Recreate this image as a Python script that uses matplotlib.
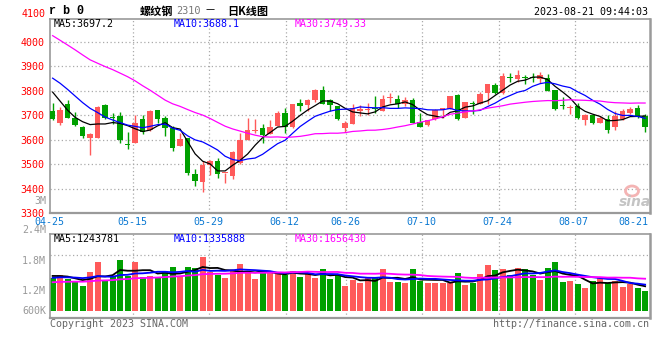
import numpy as np
import pandas as pd
import matplotlib
matplotlib.use("Agg")
import matplotlib.pyplot as plt
from matplotlib.patches import Ellipse

# daily K-line of rb2310, 04-25 .. 08-21 (80 sessions)
open_ = [3716, 3669, 3745, 3690, 3650, 3609, 3607, 3741, 3689, 3696,
         3581, 3587, 3684, 3641, 3720, 3688, 3648, 3575, 3605, 3459,
         3425, 3496, 3512, 3462, 3450, 3503, 3598, 3637, 3646, 3625,
         3655, 3711, 3650, 3752, 3741, 3761, 3802, 3761, 3738, 3646,
         3666, 3718, 3721, 3725, 3718, 3771, 3768, 3745, 3761, 3673,
         3659, 3684, 3720, 3724, 3783, 3690, 3752, 3745, 3793, 3822,
         3793, 3852, 3847, 3852, 3855, 3850, 3854, 3802, 3739, 3728,
         3738, 3680, 3700, 3670, 3686, 3650, 3686, 3711, 3729, 3695]
high = [3749, 3734, 3761, 3714, 3656, 3629, 3738, 3745, 3711, 3714,
        3632, 3701, 3701, 3720, 3721, 3697, 3656, 3626, 3605, 3480,
        3513, 3518, 3524, 3464, 3552, 3629, 3690, 3686, 3666, 3680,
        3718, 3731, 3745, 3765, 3768, 3809, 3818, 3768, 3738, 3677,
        3745, 3741, 3752, 3779, 3782, 3793, 3782, 3775, 3772, 3711,
        3680, 3727, 3731, 3779, 3789, 3754, 3759, 3795, 3827, 3833,
        3874, 3874, 3884, 3863, 3874, 3877, 3870, 3802, 3776, 3741,
        3749, 3707, 3707, 3697, 3700, 3718, 3725, 3734, 3741, 3704]
low = [3681, 3662, 3689, 3658, 3607, 3537, 3605, 3686, 3665, 3588,
       3561, 3587, 3625, 3635, 3667, 3615, 3553, 3575, 3456, 3412,
       3384, 3457, 3443, 3422, 3439, 3500, 3598, 3627, 3587, 3622,
       3655, 3626, 3646, 3718, 3718, 3755, 3748, 3718, 3680, 3633,
       3663, 3695, 3700, 3711, 3718, 3752, 3731, 3738, 3670, 3652,
       3656, 3680, 3690, 3724, 3680, 3690, 3704, 3745, 3748, 3788,
       3786, 3836, 3836, 3827, 3836, 3833, 3799, 3722, 3727, 3704,
       3684, 3659, 3663, 3667, 3627, 3640, 3682, 3707, 3690, 3633]
close = [3684, 3720, 3689, 3659, 3616, 3625, 3733, 3689, 3688, 3598,
         3580, 3669, 3632, 3718, 3684, 3646, 3567, 3602, 3463, 3432,
         3496, 3511, 3459, 3463, 3548, 3598, 3639, 3639, 3618, 3652,
         3711, 3652, 3745, 3738, 3761, 3802, 3748, 3741, 3684, 3667,
         3729, 3727, 3722, 3724, 3768, 3772, 3748, 3761, 3670, 3652,
         3680, 3720, 3729, 3779, 3684, 3754, 3745, 3786, 3827, 3793,
         3861, 3851, 3863, 3851, 3854, 3863, 3799, 3724, 3737, 3729,
         3690, 3700, 3667, 3690, 3640, 3697, 3718, 3727, 3695, 3650]
# volume, millions of lots
volume = [1.66, 1.83, 1.62, 1.46, 1.27, 1.98, 2.49, 1.57, 1.78, 2.59,
          1.79, 2.49, 1.71, 1.78, 1.74, 1.98, 2.23, 1.79, 2.23, 2.18,
          2.74, 1.96, 1.83, 1.68, 2.08, 2.39, 2.03, 1.62, 1.96, 1.93,
          1.98, 1.83, 2.03, 1.73, 1.86, 1.68, 2.13, 1.64, 1.89, 1.27,
          1.56, 1.41, 1.71, 1.68, 2.12, 1.46, 1.46, 1.41, 2.12, 1.54,
          1.41, 1.41, 1.41, 1.41, 1.91, 1.31, 1.44, 1.86, 2.32, 2.07,
          2.12, 1.81, 2.17, 2.12, 1.84, 1.56, 2.17, 2.47, 1.46, 1.51,
          1.36, 1.15, 1.52, 1.66, 1.41, 1.52, 1.22, 1.39, 1.15, 1.00]

# 29 sessions before 04-25, estimated from where the MA lines start
pre_close = [4290, 4270, 4250, 4240, 4229, 4150, 4100, 4060, 4030, 4018,
             4180, 4230, 4270, 4290, 4254, 4020, 3920, 3850, 3800, 3805,
             3930, 3940, 3930, 3885, 3860, 3905, 3875, 3805, 3705]
pre_volume = [1.30, 1.42, 1.25, 1.38, 1.33, 1.45, 1.28, 1.36, 1.40, 1.31,
              1.27, 1.39, 1.35, 1.44, 1.30, 1.36, 1.33, 1.29, 1.42, 1.37,
              1.52, 1.63, 1.58, 1.55, 1.62, 1.85, 1.76, 1.90, 1.73]

date_labels = ['04-25', '05-15', '05-29', '06-12', '06-26', '07-10', '07-24', '08-07', '08-21']
price_ticks = [3300, 3400, 3500, 3600, 3700, 3800, 3900, 4000]
ma_price_text = ['MA5:3697.2', 'MA10:3688.1', 'MA30:3749.33']
ma_vol_text = ['MA5:1243781', 'MA10:1335888', 'MA30:1656430']
vol_labels = ['2.4M', '1.8M', '1.2M', '600K']

RED = '#ff5a5a'
GREEN = '#00a000'
GRID = '#aaaaaa'
FRAME = '#9a9a9a'
MA_COLORS = ['black', '#0000ff', '#ff00ff']
MONO = 'DejaVu Sans Mono'
CJK = ['Noto Sans CJK SC', 'DejaVu Sans']

W, H = 660, 360


def box(l, t, r, b):
    return [l / W, 1 - b / H, (r - l) / W, (b - t) / H]


def ftext(x, y, s, **kw):
    kw.setdefault('family', MONO)
    kw.setdefault('fontsize', 7.2)
    kw.setdefault('va', 'center')
    fig.text(x / W, 1 - y / H, s, **kw)


fig = plt.figure(figsize=(6.6, 3.6), dpi=100)
ax = fig.add_axes(box(50, 19, 650, 213))
axv = fig.add_axes(box(50, 234, 650, 318))

o = np.array(open_, float)
h = np.array(high, float)
l = np.array(low, float)
c = np.array(close, float)
v = np.array(volume)
x = np.arange(len(c))
colors = np.where(c >= o, RED, GREEN)

# grid lines sit a bit off the candles, as in the original
grid_x = [10.72, 20.85, 31.08, 39.1, 49.25, 59.5, 69.65]
xlim = (-0.35, 79.65)

for a in (ax, axv):
    a.set_xlim(*xlim)
    for gx in grid_x:
        a.axvline(gx, color=GRID, lw=0.9, ls=(0, (1, 2)), zorder=0)
    a.set_xticks([])
    for sp in a.spines.values():
        sp.set_color(FRAME)
        sp.set_linewidth(1.2)
    a.spines['right'].set_linewidth(1.8)
    a.spines['bottom'].set_linewidth(1.6)
    a.tick_params(length=0)

# candles
ax.set_ylim(3300, 4094)
for p in price_ticks[1:]:
    ax.axhline(p, color=GRID, lw=0.9, ls=(0, (1, 2)), zorder=0)
ax.vlines(x, l, h, colors=colors, lw=1, zorder=2)
body = np.maximum(np.abs(c - o), 4)
ax.bar(x, body, bottom=np.minimum(o, c), width=0.75, color=colors, zorder=3)
ax.set_yticks(price_ticks)
ax.set_yticklabels([str(p) for p in price_ticks], color='red', family=MONO, fontsize=7.2)
ax.tick_params(axis='y', pad=4)

closes = pd.Series(pre_close + close, dtype=float)
n0 = len(pre_close)
for win, col in zip((5, 10, 30), MA_COLORS):
    ma = closes.rolling(win).mean().iloc[n0:].values
    ax.plot(x, ma, color=col, lw=0.9, zorder=4)

# volume
vols = pd.Series(pre_volume + volume, dtype=float)
axv.set_ylim(-0.355, 3.909)
axv.axhline(2.84, color=GRID, lw=0.9, ls=(0, (1, 2)), zorder=0)
axv.bar(x, v, width=0.8, color=colors, zorder=2)
for win, col in zip((5, 10, 30), MA_COLORS):
    ma = vols.rolling(win).mean().iloc[n0:].values
    axv.plot(x, ma, color=col, lw=1.3, zorder=3)
axv.set_yticks([])

# texts
ftext(49, 11, 'r b 0', family='Liberation Mono', fontweight='bold', fontsize=8.5)
ftext(140, 11, '螺纹钢', family=CJK, fontsize=8, fontweight='bold')
ftext(176, 11, '2310', color='#777777', fontsize=7.4)
ftext(205, 11, '－', family=CJK, fontsize=8)
ftext(227, 11, '日K线图', family=CJK, fontsize=8, fontweight='bold')
ftext(648, 12, '2023-08-21 09:44:03', ha='right')
ftext(46, 14, '4100', color='red', ha='right')
ftext(46, 201, '3M', color='#999999', ha='right')

for xs, s, col in zip((54, 174, 295), ma_price_text, MA_COLORS):
    ftext(xs, 24, s, color=col)
for xs, s, col in zip((54, 174, 295), ma_vol_text, MA_COLORS):
    ftext(xs, 239, s, color=col)

label_px = [49.3, 132.3, 208, 284.7, 345.3, 421.3, 497.3, 573, 648.3]
for i, (xs, s) in enumerate(zip(label_px, date_labels)):
    ftext(xs, 222, s, color='#0a78d2', ha='right' if i == len(date_labels) - 1 else 'center')

for yp, s in zip((230, 261, 291, 311), vol_labels):
    ftext(46, yp, s, color='#999999', ha='right')

ftext(50, 324, 'Copyright 2023 SINA.COM', color='#666666')
ftext(649, 324, 'http://finance.sina.com.cn', color='#666666', ha='right')

# sina watermark
fig.add_artist(Ellipse((632 / W, 1 - 191 / H), 13 / W, 10 / H, transform=fig.transFigure,
                       facecolor='none', edgecolor='#f4b4b4', lw=2))
ftext(635, 202, 'sina', color='#c4c4c4', family='DejaVu Sans', fontsize=10,
      fontstyle='italic', fontweight='bold', ha='center')

fig.savefig('out.png', dpi=100)
